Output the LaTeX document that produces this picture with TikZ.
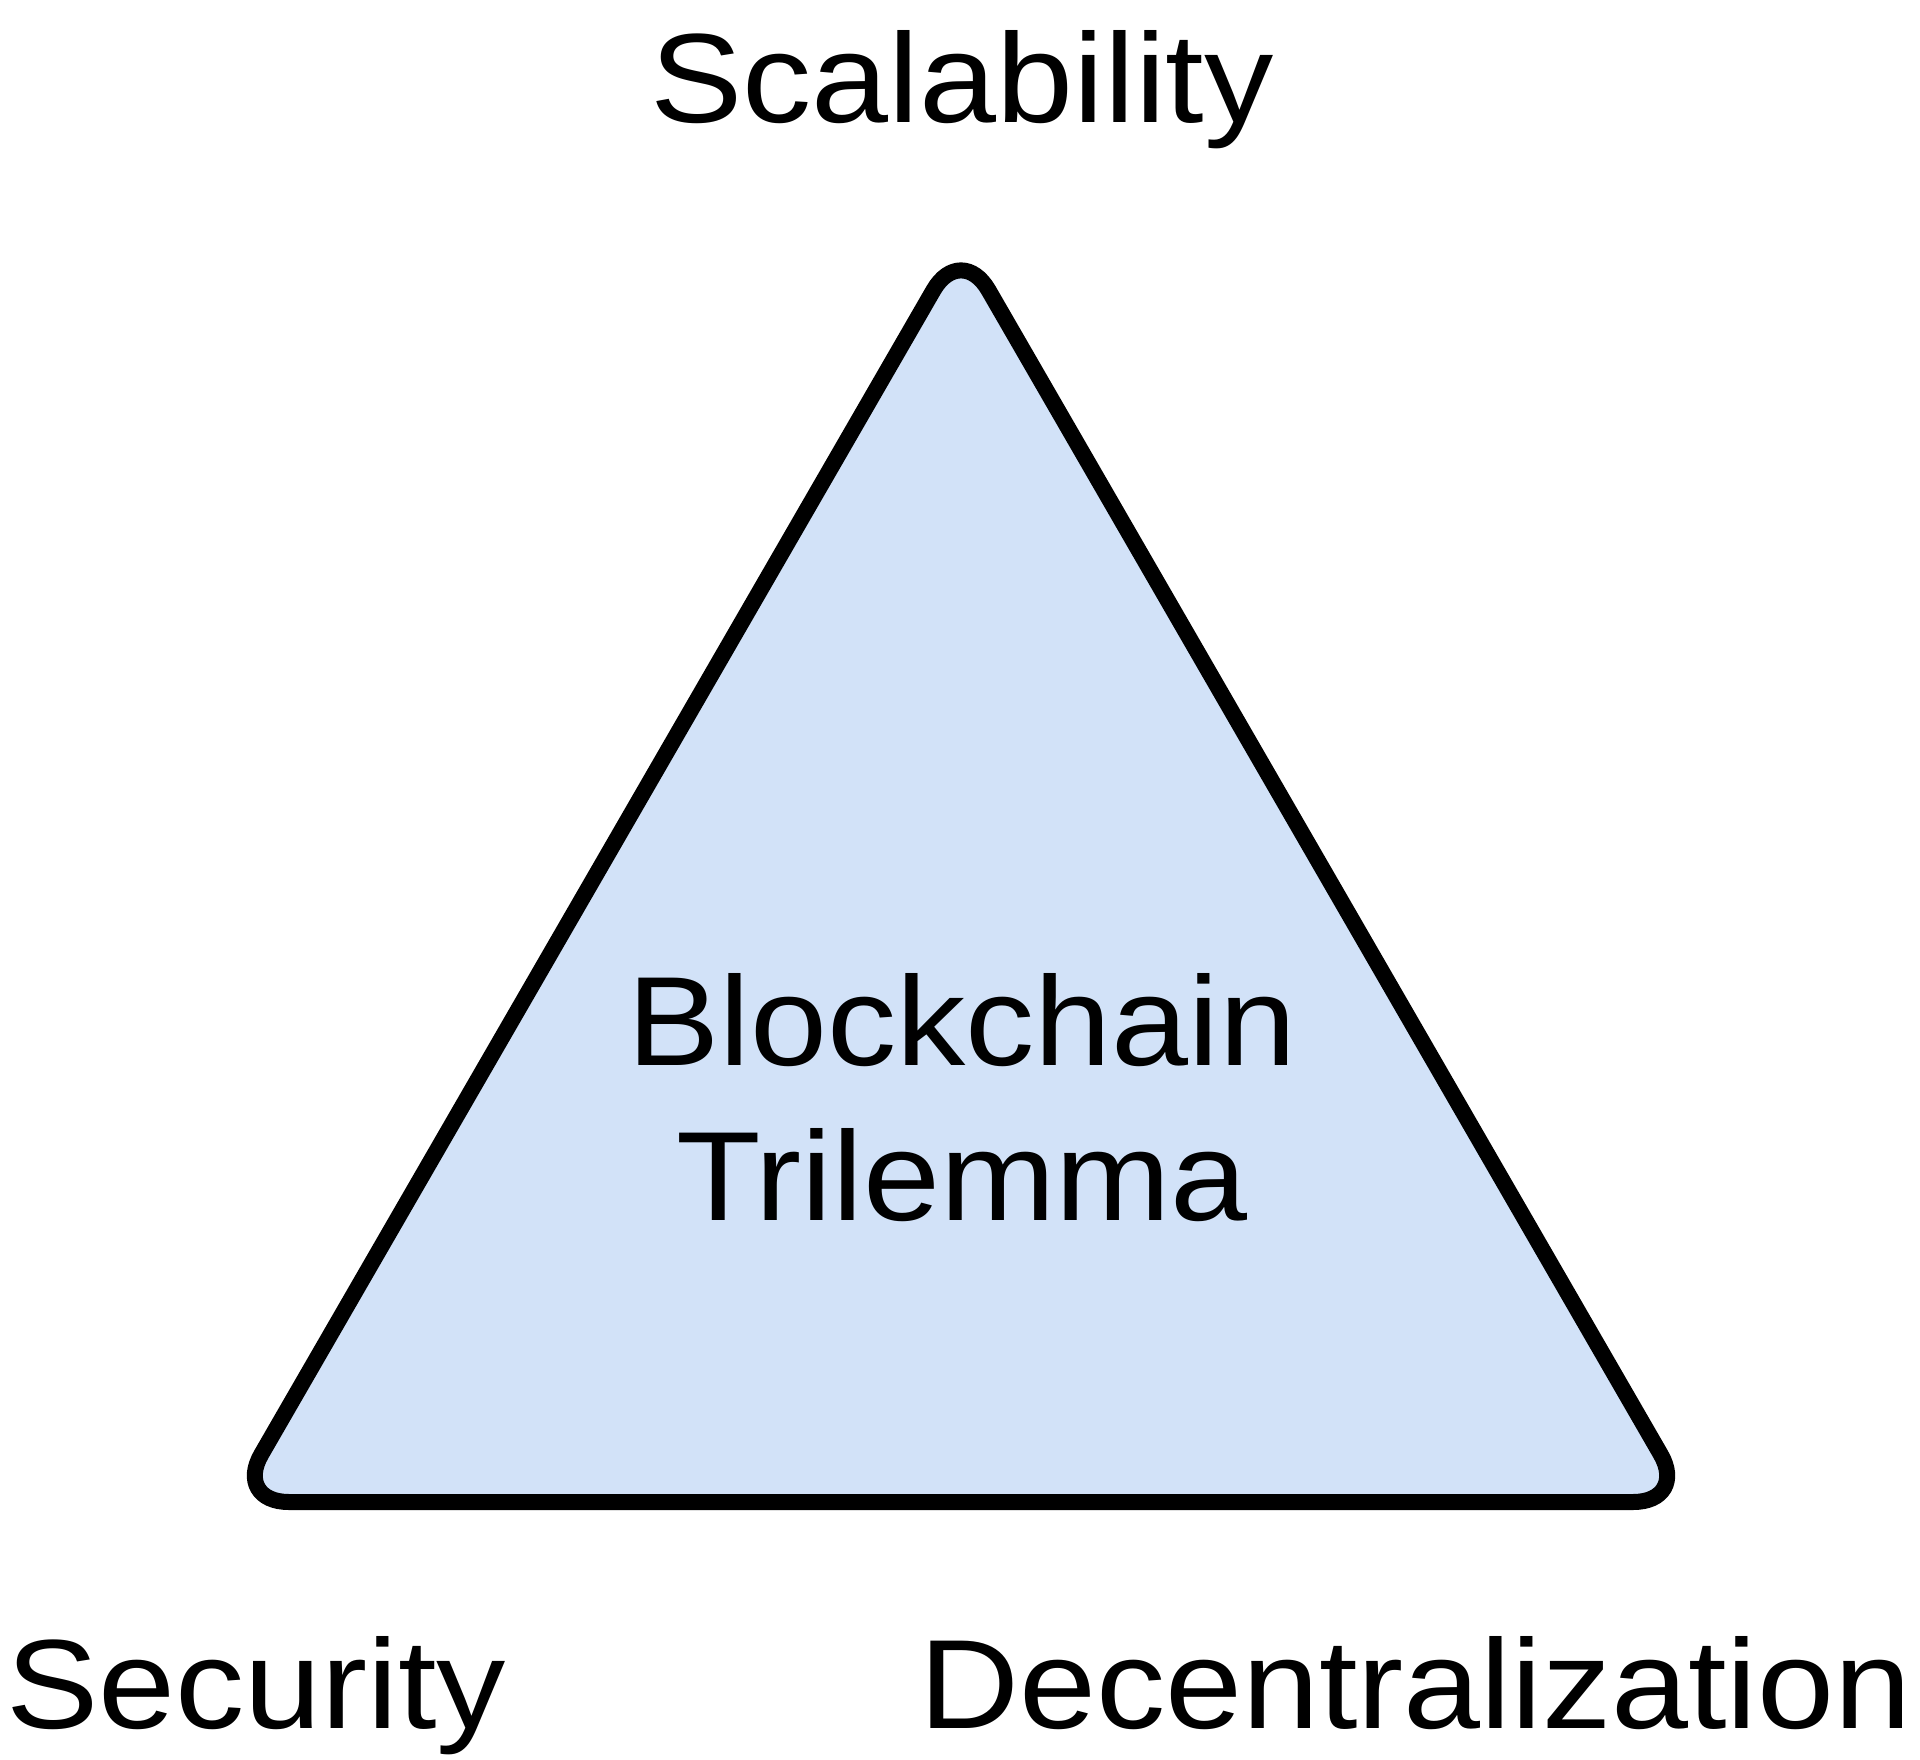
\documentclass[tikz,border=0pt]{standalone}
\usepackage{fontspec}
\setmainfont[FakeStretch=1.09]{Liberation Sans}
\definecolor{trifill}{RGB}{210,226,248}
\tikzset{
  lbl/.style={anchor=base, inner sep=0pt, font=\fontsize{127}{155}\selectfont},
  tri/.style={draw=black, fill=trifill, line width=16pt, line join=round, rounded corners=55pt}
}
\begin{document}
\begin{tikzpicture}[x=1pt, y=-1pt]
\useasboundingbox (0,0) rectangle (1920,1760);
\coordinate (apex) at (961,242.5);
\coordinate (bl) at (233.8,1502);
\coordinate (br) at (1688.2,1502);
\draw[tri] (apex) -- (bl) -- (br) -- cycle;
\node[lbl] (scal) at (962,123) {Scalability};
\node[lbl] (block) at (962,1065) {Blockchain};
\node[lbl] (tril) at (962,1220) {Trilemma};
\node[lbl, anchor=base west] (sec) at (6,1728) {Security};
\node[lbl, anchor=base east] (dec) at (1912,1728) {Decentralization};
\end{tikzpicture}
\end{document}
